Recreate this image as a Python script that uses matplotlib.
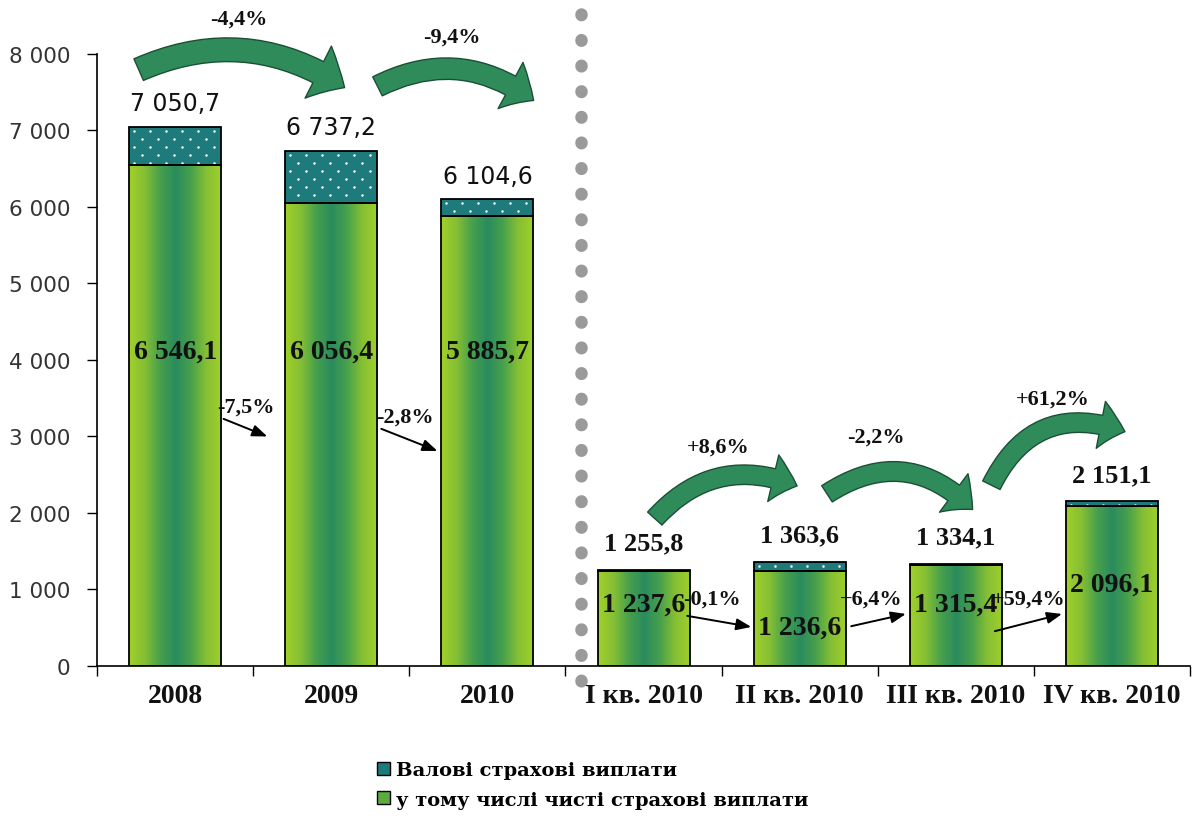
import matplotlib
matplotlib.use('Agg')
import matplotlib.pyplot as plt
import numpy as np
from matplotlib.patches import FancyArrowPatch, Patch, ArrowStyle
from matplotlib.colors import LinearSegmentedColormap
from matplotlib.ticker import FuncFormatter, FixedLocator
import matplotlib.transforms as mtransforms

# ---------------- data ----------------
categories = ['2008', '2009', '2010', 'I кв. 2010', 'II кв. 2010', 'III кв. 2010', 'IV кв. 2010']
gross = [7050.7, 6737.2, 6104.6, 1255.8, 1363.6, 1334.1, 2151.1]
net = [6546.1, 6056.4, 5885.7, 1237.6, 1236.6, 1315.4, 2096.1]
curved_changes = ['-4,4%', '-9,4%', '+8,6%', '-2,2%', '+61,2%']
straight_changes = ['-7,5%', '-2,8%', '-0,1%', '+6,4%', '+59,4%']
legend_labels = ['Валові страхові виплати', 'у тому числі чисті страхові виплати']

# ---------------- layout / style ----------------
net_label_y = [4120, 4120, 4120, 810, 510, 810, 1072]
curved_arrows = [  # (x0, y0, x1, y1, rad, label_x, label_y, scale)
    (-0.25, 7780, 1.10, 7540, -0.28, 0.41, 8460, 1.0),
    (1.28, 7560, 2.31, 7370, -0.32, 1.77, 8230, 0.9),
    (3.06, 1900, 4.00, 2340, -0.36, 3.48, 2870, 0.82),
    (4.16, 2230, 5.12, 2020, -0.42, 4.49, 3000, 0.82),
    (5.22, 2330, 6.10, 3050, -0.46, 5.62, 3500, 0.82),
]
straight_arrows = [  # (x0, y0, x1, y1, label_x, label_y)
    (0.31, 3230, 0.59, 3000, 0.45, 3390),
    (1.32, 3100, 1.68, 2810, 1.47, 3260),
    (3.28, 655, 3.69, 510, 3.44, 876),
    (4.33, 520, 4.68, 680, 4.46, 876),
    (5.25, 455, 5.68, 680, 5.47, 876),
]

teal = '#1d7b7b'
green_cmap = LinearSegmentedColormap.from_list(
    'g', ['#a0d02a', '#86bf34', '#47a04c', '#2a8c5e', '#47a04c', '#86bf34', '#a0d02a'])

serif = ['Liberation Serif', 'DejaVu Serif']

fig = plt.figure(figsize=(11.99, 8.2), dpi=100)
ax = fig.add_axes([0.081, 0.1866, 0.9115, 0.7464])

x = np.arange(len(categories))
width = 0.59

# net bars (outline) + gradient fill
net_bars = ax.bar(x, net, width=width, facecolor='none', edgecolor='black', linewidth=1.3, zorder=3)
grad = np.linspace(0, 1, 256).reshape(1, -1)
for b in net_bars:
    x0, w, h = b.get_x(), b.get_width(), b.get_height()
    ax.imshow(grad, cmap=green_cmap, extent=[x0, x0 + w, 0, h], aspect='auto', zorder=2,
              interpolation='bilinear')

# gross top segment: teal
top_h = [g - n for g, n in zip(gross, net)]
top_bars = ax.bar(x, top_h, bottom=net, width=width, facecolor=teal, linewidth=0, zorder=2)
ax.bar(x, top_h, bottom=net, width=width, facecolor='none', edgecolor='black', linewidth=1.3, zorder=3)

ax.set_xlim(-0.5, len(categories) - 0.5)
ax.set_ylim(0, 8000)
ax.set_autoscale_on(False)

# white dot texture inside the teal segments (staggered lattice in pixels)
for p in top_bars.patches:
    bb = p.get_window_extent()
    ys = np.arange(bb.y1 - 4, bb.y0 - 8, -8.0)
    px, py = [], []
    for k, yy in enumerate(ys):
        start = bb.x0 + (5 if k % 2 == 0 else 13)
        for xx in np.arange(start, bb.x1, 16.0):
            px.append(xx)
            py.append(yy)
    sc = ax.scatter(px, py, s=3.2, c='white', linewidths=0, marker='o',
                    transform=mtransforms.IdentityTransform(), zorder=2.5)
    sc.set_clip_path(p)


def fmt(v):
    return f"{v:,.1f}".replace(',', ' ').replace('.', ',')


# labels
for i in range(len(categories)):
    if i < 3:
        ax.annotate(fmt(gross[i]), (x[i], gross[i]),
                    xytext=(0, 8), textcoords='offset points', ha='center', va='bottom',
                    fontsize=17, family='DejaVu Sans', color='#111111', zorder=5)
    else:
        ax.annotate(fmt(gross[i]), (x[i], gross[i]),
                    xytext=(0, 11), textcoords='offset points', ha='center', va='bottom',
                    fontsize=19, family=serif, fontweight='bold', color='#111111', zorder=5)
    ax.text(x[i], net_label_y[i], fmt(net[i]),
            ha='center', va='center', fontsize=20, family=serif, fontweight='bold',
            color='#111111', zorder=5)

# curved block arrows
for (cx0, cy0, cx1, cy1, rad, lx, ly, sc_), lab in zip(curved_arrows, curved_changes):
    st = ArrowStyle.Simple(head_length=1.1 * sc_, head_width=2.1 * sc_, tail_width=0.85 * sc_)
    arr = FancyArrowPatch((cx0, cy0), (cx1, cy1), arrowstyle=st, mutation_scale=20,
                          connectionstyle=f'arc3,rad={rad}', facecolor='#2f8c5a',
                          edgecolor='#1b4f35', linewidth=1.0, zorder=4, clip_on=False)
    ax.add_patch(arr)
    ax.text(lx, ly, lab, ha='center', va='center', fontsize=16, family=serif,
            fontweight='bold', color='#111111', clip_on=False, zorder=5)

# straight small arrows
for (sx0, sy0, sx1, sy1, lx, ly), lab in zip(straight_arrows, straight_changes):
    ax.annotate('', xy=(sx1, sy1), xytext=(sx0, sy0),
                arrowprops=dict(arrowstyle='-|>,head_length=0.9,head_width=0.35', color='black',
                                lw=1.4, shrinkA=0, shrinkB=0), zorder=5)
    ax.text(lx, ly, lab, ha='center', va='center', fontsize=16, family=serif,
            fontweight='bold', color='#111111', zorder=6)

# dotted separator
trans = mtransforms.blended_transform_factory(ax.transData, ax.transAxes)
ax.plot([2.6, 2.6], [1.065, -0.04], transform=trans, color='#9a9a9a', lw=9,
        linestyle=(0, (0.05, 2.0)), dash_capstyle='round', clip_on=False, zorder=1)

# axes styling
ax.yaxis.set_major_locator(FixedLocator(np.arange(0, 8001, 1000)))
ax.yaxis.set_major_formatter(FuncFormatter(lambda v, p: f"{int(v):,}".replace(',', ' ')))
ax.tick_params(axis='y', direction='out', length=7, width=1, labelsize=15.5,
               labelcolor='#333333', pad=12)
for t in ax.get_yticklabels():
    t.set_family('DejaVu Sans')
ax.set_xticks(x)
ax.set_xticklabels(categories, family=serif, fontweight='bold', fontsize=20, color='#111111')
ax.set_xticks(np.arange(-0.5, len(categories), 1.0), minor=True)
ax.tick_params(axis='x', which='major', length=0, pad=12)
ax.tick_params(axis='x', which='minor', length=7, width=1, direction='out')
for s in ['top', 'right']:
    ax.spines[s].set_visible(False)
ax.spines['left'].set_linewidth(1.2)
ax.spines['bottom'].set_linewidth(1.2)

# legend
handles = [Patch(facecolor=teal, edgecolor='black', linewidth=1),
           Patch(facecolor='#5daa3e', edgecolor='black', linewidth=1)]
fig.legend(handles, legend_labels, loc='upper left', bbox_to_anchor=(0.3, 0.092),
           frameon=False, handlelength=0.65, handleheight=0.65, handletextpad=0.3,
           labelspacing=0.6, prop=dict(family='DejaVu Serif', weight='bold', size=14))

fig.savefig('out.png', dpi=100)
